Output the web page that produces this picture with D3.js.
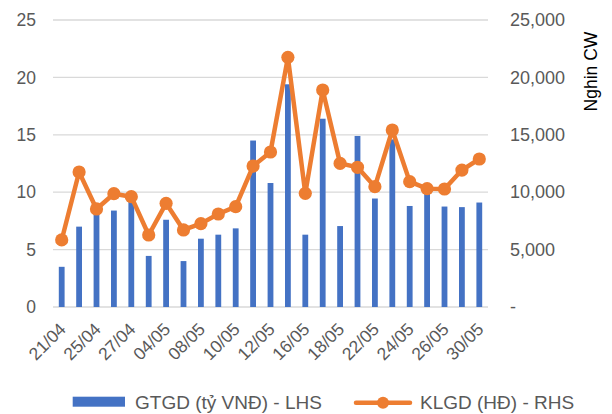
<!DOCTYPE html>
<html><head><meta charset="utf-8">
<script src="https://cdn.jsdelivr.net/npm/d3@7"></script>
<style>body{margin:0;background:#fff;} svg{display:block;font-family:"Liberation Sans",Arial,sans-serif;}</style>
</head><body><svg id="c" width="612" height="414"></svg>
<script>
const categories = ["21/04","24/04","25/04","26/04","27/04","28/04","04/05","05/05","08/05","09/05","10/05","11/05","12/05","15/05","16/05","17/05","18/05","19/05","22/05","23/05","24/05","25/05","26/05","29/05","30/05"];
const tickLabels = ["21/04","25/04","27/04","04/05","08/05","10/05","12/05","16/05","18/05","22/05","24/05","26/05","30/05"];
const gtgd = [3.5,7.0,8.1,8.4,9.2,4.45,7.6,4.0,5.95,6.3,6.85,14.5,10.8,19.4,6.3,16.4,7.05,14.9,9.45,14.6,8.8,9.9,8.75,8.7,9.1];
const klgd = [5840,11760,8540,9870,9610,6270,9030,6710,7260,8100,8740,12280,13500,21750,9900,18900,12510,12170,10480,15420,10920,10310,10280,11930,12890];
const leftTicks = [0,5,10,15,20,25];
const rightTicks = [0,5000,10000,15000,20000,25000];
const seriesNames = ["GTGD (tỷ VNĐ) - LHS","KLGD (HĐ) - RHS"];
const colors = ["#4472C4","#ED7D31"];

const svg = d3.select("#c");
const L = 53, R = 488, T = 20, B = 307;
const x = d3.scaleBand().domain(categories).range([L, R]);
const yL = d3.scaleLinear().domain([0,25]).range([B, T]);
const yR = d3.scaleLinear().domain([0,25000]).range([B, T]);

// gridlines
svg.append("g").selectAll("line").data(leftTicks).join("line")
  .attr("x1", L).attr("x2", R).attr("y1", d=>yL(d)).attr("y2", d=>yL(d))
  .attr("stroke", "#D9D9D9").attr("stroke-width", 1.3);

// left axis
const axL = svg.append("g").attr("transform", `translate(${L},0)`)
  .call(d3.axisLeft(yL).tickValues(leftTicks).tickSize(0).tickPadding(17));
axL.select(".domain").remove();
axL.selectAll("text").attr("fill","#595959").style("font-size","17.5px").attr("font-family","Liberation Sans, Arial, sans-serif");

// right axis
const axR = svg.append("g").attr("transform", `translate(${R},0)`)
  .call(d3.axisRight(yR).tickValues(rightTicks).tickSize(0).tickPadding(22)
    .tickFormat(d => d === 0 ? "-" : d3.format(",")(d)));
axR.select(".domain").remove();
axR.selectAll("text").attr("fill","#595959").style("font-size","18px").attr("font-family","Liberation Sans, Arial, sans-serif");

// bars
const bw = 5.8;
svg.append("g").selectAll("rect").data(gtgd).join("rect")
  .attr("x", (d,i)=>x(categories[i]) + x.bandwidth()/2 - bw/2)
  .attr("width", bw)
  .attr("y", d=>yL(d)).attr("height", d=>B - yL(d))
  .attr("fill", colors[0]);

// line
const line = d3.line().x((d,i)=>x(categories[i]) + x.bandwidth()/2).y(d=>yR(d));
svg.append("path").datum(klgd).attr("d", line).attr("fill","none")
  .attr("stroke", colors[1]).attr("stroke-width", 4.5).attr("stroke-linejoin","round");
svg.append("g").selectAll("circle").data(klgd).join("circle")
  .attr("cx", (d,i)=>x(categories[i]) + x.bandwidth()/2).attr("cy", d=>yR(d))
  .attr("r", 6.6).attr("fill", colors[1]);

// x axis labels
const axX = svg.append("g").attr("transform", `translate(0,${B})`)
  .call(d3.axisBottom(x).tickValues(tickLabels).tickSize(0).tickPadding(0));
axX.select(".domain").remove();
axX.selectAll("text")
  .attr("fill","#595959").style("font-size","17.5px").attr("font-family","Liberation Sans, Arial, sans-serif")
  .attr("text-anchor","end").attr("dy", null)
  .attr("transform","translate(2,20) rotate(-45)")
  .attr("y", 0).attr("x", 0).attr("dominant-baseline","middle");

// axis title
svg.append("text").attr("transform","translate(597,71.5) rotate(-90)")
  .attr("text-anchor","middle").attr("fill","#000").style("font-size","17.5px")
  .text("Nghin CW");

// legend
const lg = svg.append("g");
lg.append("rect").attr("x",72.7).attr("y",396.7).attr("width",52.3).attr("height",10).attr("fill",colors[0]);
lg.append("text").attr("x",135).attr("y",408.5).attr("fill","#595959").style("font-size","19px").text(seriesNames[0]);
lg.append("line").attr("x1",356).attr("x2",410).attr("y1",402.7).attr("y2",402.7)
  .attr("stroke",colors[1]).attr("stroke-width",4.5).attr("stroke-linecap","round");
lg.append("circle").attr("cx",383).attr("cy",402.7).attr("r",6).attr("fill",colors[1]);
lg.append("text").attr("x",420).attr("y",408.5).attr("fill","#595959").style("font-size","19px").text(seriesNames[1]);
</script></body></html>
